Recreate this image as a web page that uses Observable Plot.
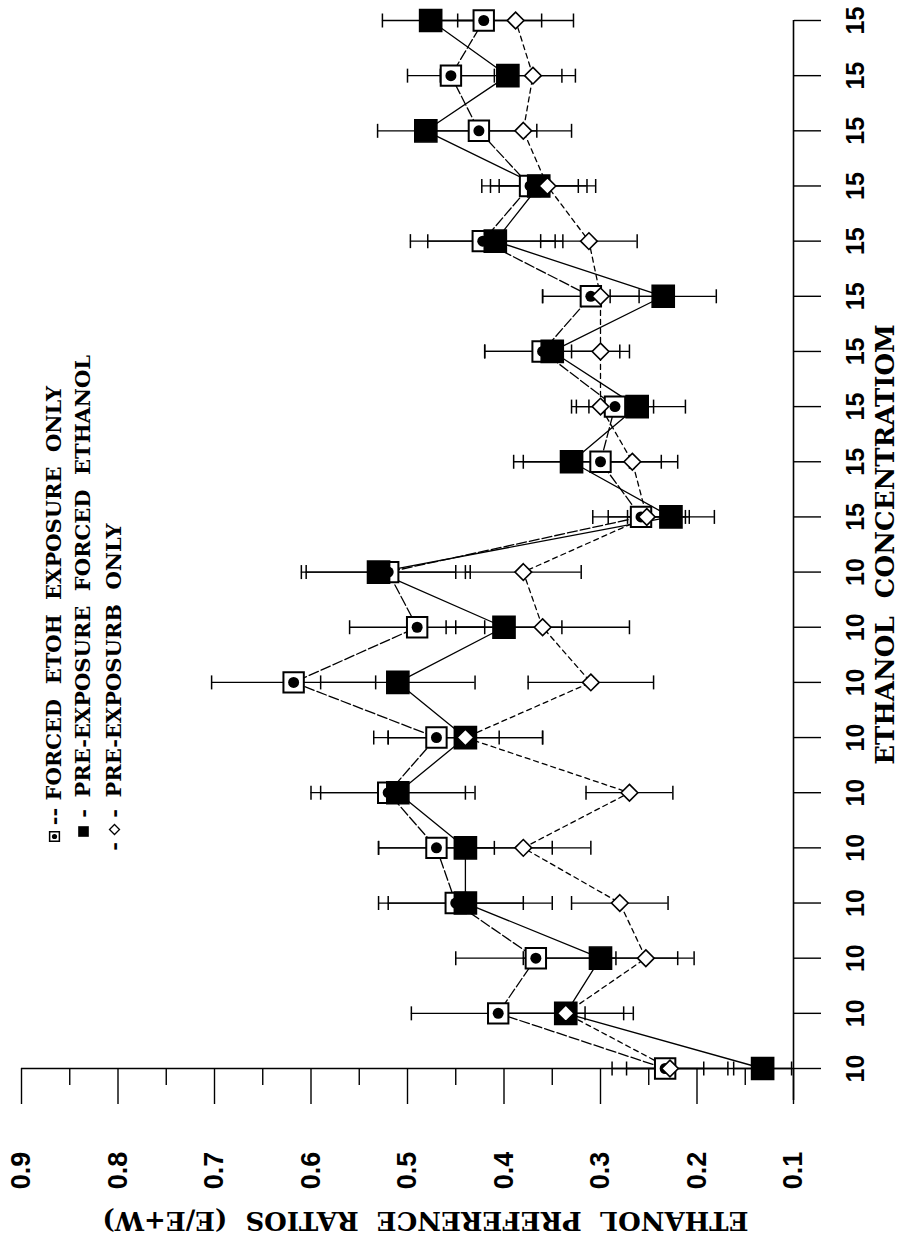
<!DOCTYPE html>
<html>
<head>
<meta charset="utf-8">
<script src="https://cdn.jsdelivr.net/npm/d3@7"></script>
<script src="https://cdn.jsdelivr.net/npm/@observablehq/plot@0.6"></script>
<style>
  html, body { margin: 0; padding: 0; background: #fff; }
  #chart svg { display: block; }
</style>
</head>
<body>
<div id="chart"></div>
<script>
// ---- data (trial order bottom -> top) ----
const concentration = ["10","10","10","10","10","10","10","10","10","10",
                       "15","15","15","15","15","15","15","15","15","15"];
const forcedOnly      = [0.233,0.406,0.367,0.45,0.47,0.52,0.47,0.618,0.49,0.52,
                         0.258,0.30,0.285,0.36,0.31,0.422,0.373,0.426,0.455,0.421];
const forcedOnlyErr   = [0.04,0.09,0.083,0.07,0.06,0.08,0.065,0.085,0.07,0.085,
                         0.05,0.08,0.04,0.06,0.05,0.075,0.05,0.06,0.045,0.06];
const preForced       = [0.132,0.336,0.30,0.44,0.44,0.51,0.44,0.51,0.40,0.53,
                         0.227,0.33,0.262,0.35,0.235,0.409,0.364,0.481,0.396,0.476];
const preForcedErr    = [0.03,0.07,0.08,0.09,0.09,0.08,0.08,0.08,0.06,0.08,
                         0.045,0.06,0.05,0.07,0.055,0.07,0.05,0.05,0.07,0.05];
const preOnly         = [0.228,0.336,0.253,0.28,0.38,0.27,0.44,0.31,0.36,0.38,
                         0.252,0.267,0.30,0.30,0.30,0.312,0.355,0.38,0.37,0.388];
const preOnlyErr      = [0.06,0.06,0.05,0.05,0.07,0.045,0.08,0.065,0.09,0.06,
                         0.04,0.03,0.03,0.03,0.06,0.05,0.05,0.05,0.03,0.06];
const ratioTicks  = [0.1,0.2,0.3,0.4,0.5,0.6,0.7,0.8,0.9];
const ratioLabels = ["0.1","0.2","0.3","0.4","0.5","0.6","0.7","0.8","0.9"];
const ratioMinor  = [0.15,0.25,0.35,0.45,0.55,0.65,0.75,0.85];
const legendLabels = ["FORCED  ETOH  EXPOSURE  ONLY",
                      "PRE-EXPOSURE  FORCED  ETHANOL",
                      "PRE-EXPOSURB  ONLY"];
const xTitle = "ETHANOL  CONCENTRATIOM";
const yTitle = "ETHANOL  PREFERENCE  RATIOS  (E/E+W)";

// ---- tables built from the arrays ----
const idx = concentration.map((_, i) => i);
const mk = (vals, errs) => vals.map((v, i) => ({i, v, lo: v - errs[i], hi: v + errs[i]}));
const F = mk(forcedOnly, forcedOnlyErr);
const P = mk(preForced, preForcedErr);
const O = mk(preOnly, preOnlyErr);
const allBars = [...F, ...P, ...O];

const capSymbol = { draw(ctx, size) { const h = Math.sqrt(size / Math.PI); ctx.moveTo(0, -h); ctx.lineTo(0, h); } };

const serif = "'DejaVu Serif', serif";
const sans = "'Liberation Sans', Arial, sans-serif";
const legendText = (label, dx, dy, size = 21, anchor = "start") => Plot.text([label], {frameAnchor: "bottom-left", dx, dy, rotate: -90,
  textAnchor: anchor, lineAnchor: "middle", fontSize: size, fontWeight: "bold", fontFamily: serif, fill: "#000"});
const legendDot = (dx, dy, opts) => Plot.dot([0], {frameAnchor: "bottom-left", dx, dy, ...opts});

const chart = Plot.plot({
  width: 903,
  height: 1237,
  marginLeft: 21,
  marginRight: 110,
  marginTop: 20,
  marginBottom: 169,
  x: {type: "linear", domain: [0.1, 0.9], reverse: true, axis: null},
  y: {type: "linear", domain: [0, 19], axis: null},
  style: {background: "#fff", color: "#000"},
  marks: [
    // axis lines
    Plot.ruleY([0], {stroke: "#000", strokeWidth: 1.6}),
    Plot.ruleX([0.1], {stroke: "#000", strokeWidth: 1.6, insetBottom: -32}),
    // ratio axis ticks
    Plot.axisX({anchor: "bottom", ticks: ratioTicks, tickSize: 36, tickFormat: () => "", label: null, strokeWidth: 1.4}),
    Plot.axisX({anchor: "bottom", ticks: ratioMinor, tickSize: 17, tickFormat: () => "", label: null, strokeWidth: 1.4}),
    Plot.text(ratioTicks, {x: d => d, text: (d, k) => ratioLabels[k], frameAnchor: "bottom", dy: 102, rotate: -90,
      textAnchor: "middle", lineAnchor: "middle", fontSize: 27, fontWeight: "bold", fontFamily: sans, fill: "#000"}),
    // concentration axis ticks + labels
    Plot.axisY({anchor: "right", ticks: idx, tickSize: 27, tickFormat: () => "", label: null, strokeWidth: 1.4}),
    Plot.text(idx, {y: d => d, text: d => concentration[d], frameAnchor: "right", dx: 62, rotate: -90,
      textAnchor: "middle", lineAnchor: "middle", fontSize: 25, fontWeight: "bold", fontFamily: sans, fill: "#000"}),
    // titles
    Plot.text([xTitle], {frameAnchor: "right", dx: 92, rotate: -90, textAnchor: "middle", lineAnchor: "middle",
      fontSize: 26, fontWeight: "bold", fontFamily: serif, fill: "#000"}),
    Plot.text([yTitle], {frameAnchor: "bottom", dx: 18, dy: 152, rotate: 180, textAnchor: "middle", lineAnchor: "middle",
      fontSize: 26, fontWeight: "bold", fontFamily: serif, fill: "#000"}),
    // connecting lines
    Plot.line(F, {x: "v", y: "i", stroke: "#000", strokeWidth: 1.3, strokeDasharray: "10,3"}),
    Plot.line(P, {x: "v", y: "i", stroke: "#000", strokeWidth: 1.3}),
    Plot.line(O, {x: "v", y: "i", stroke: "#000", strokeWidth: 1.3, strokeDasharray: "5,4"}),
    // error bars
    Plot.ruleY(allBars, {y: "i", x1: "lo", x2: "hi", stroke: "#000", strokeWidth: 1.3}),
    Plot.dot(allBars, {x: "lo", y: "i", symbol: capSymbol, r: 7, stroke: "#000", fill: "none", strokeWidth: 1.5}),
    Plot.dot(allBars, {x: "hi", y: "i", symbol: capSymbol, r: 7, stroke: "#000", fill: "none", strokeWidth: 1.5}),
    // markers
    Plot.dot(F, {x: "v", y: "i", symbol: "square", r: 11.5, fill: "#fff", stroke: "#000", strokeWidth: 2}),
    Plot.dot(F, {x: "v", y: "i", symbol: "circle", r: 5.5, fill: "#000"}),
    Plot.dot(P, {x: "v", y: "i", symbol: "square", r: 12.5, fill: "#000", stroke: "#000"}),
    Plot.dot(O, {x: "v", y: "i", symbol: "diamond2", r: 7.5, fill: "#fff", stroke: "#000", strokeWidth: 1.6}),
    // legend (inside the plot, rotated like the rest of the figure)
    legendDot(33, -232, {symbol: "square", r: 5.5, fill: "#fff", stroke: "#000", strokeWidth: 1.5}),
    legendDot(33, -232, {symbol: "circle", r: 2.6, fill: "#000"}),
    legendText("--", 33, -252, 21, "middle"),
    legendText(legendLabels[0], 33, -268),
    legendDot(62, -237, {symbol: "square", r: 6, fill: "#000"}),
    legendText("-", 62, -255, 21, "middle"),
    legendText(legendLabels[1], 62, -271),
    legendText("-", 93, -222, 21, "middle"),
    legendDot(93, -239, {symbol: "diamond2", r: 4.5, fill: "#fff", stroke: "#000", strokeWidth: 1.3}),
    legendText("-", 93, -255, 21, "middle"),
    legendText(legendLabels[2], 93, -271)
  ]
});
document.getElementById("chart").appendChild(chart);
</script>
</body>
</html>
